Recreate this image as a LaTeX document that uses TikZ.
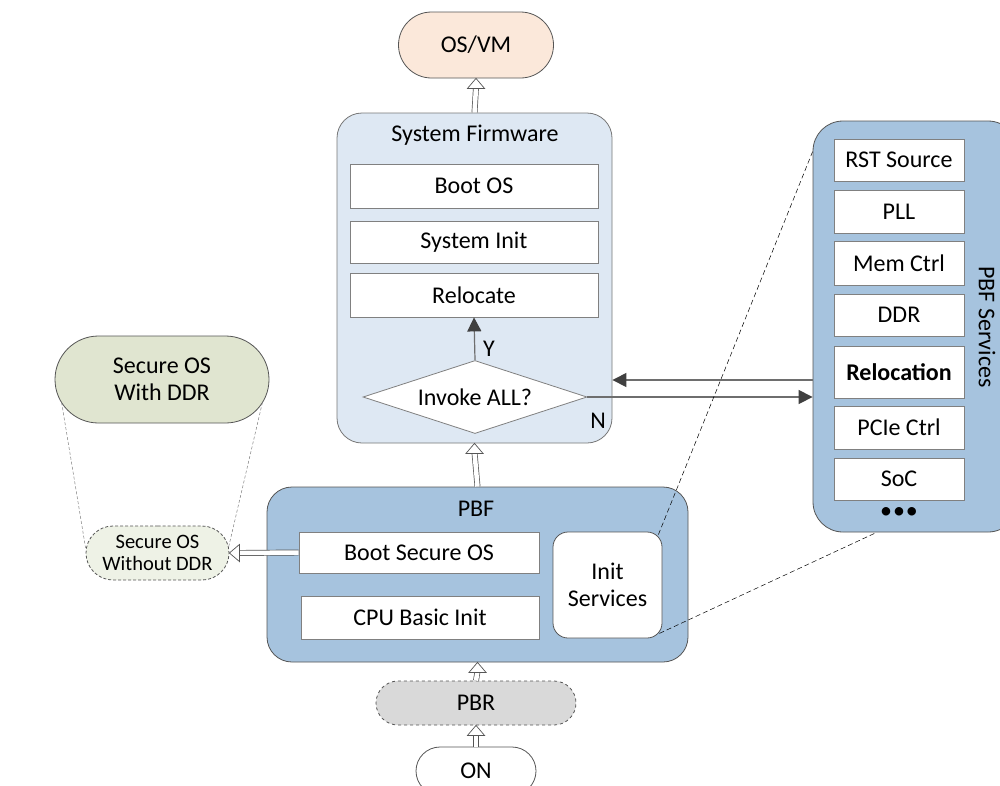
\documentclass[tikz,border=0pt]{standalone}
\usepackage{fontspec}
\setmainfont{Carlito}
\usetikzlibrary{arrows.meta,shapes.geometric,shapes.misc,calc}
\definecolor{fwfill}{HTML}{DEE8F3}
\definecolor{pbffill}{HTML}{A6C3DE}
\definecolor{osfill}{HTML}{FBE8DA}
\definecolor{ddrfill}{HTML}{E0E5D0}
\definecolor{noddrfill}{HTML}{EEF2E6}
\definecolor{pbrfill}{HTML}{D9D9D9}
\definecolor{edge}{HTML}{555555}
\definecolor{inedge}{HTML}{808080}
\definecolor{arrgray}{HTML}{6E6E6E}
\definecolor{tipgray}{HTML}{404040}
\begin{document}
\begin{tikzpicture}[x=1pt,y=-1pt,
  every node/.style={font=\fontsize{24}{27}\selectfont, text=black},
  pill/.style={rounded rectangle, draw=edge, line width=0.8pt, inner sep=0pt},
  panel/.style={rectangle, draw=edge, line width=0.8pt, inner sep=0pt},
  inbox/.style={rectangle, draw=inedge, fill=white, line width=0.8pt, minimum width=248, inner sep=0pt},
  svcbox/.style={rectangle, draw=inedge, fill=white, line width=0.8pt, minimum width=130, inner sep=0pt},
  shaft/.style={draw=edge, double=white, double distance=4.5pt, line width=0.7pt},
  hollowtip/.style={draw=edge, fill=white, line width=0.7pt, line join=miter},
  flow/.style={draw=arrgray, line width=1.2pt, -{Triangle[length=14pt,width=14pt,color=tipgray]}},
  zoomline/.style={draw=black, line width=0.5pt, dash pattern=on 5pt off 3pt},
  ddrline/.style={draw=gray, line width=0.5pt, dash pattern=on 3pt off 2pt}]
\useasboundingbox (0,0) rectangle (1000,785);
\fill[white] (0,0) rectangle (1000,785);

% top
\node[pill, fill=osfill, minimum width=155, minimum height=66] (osvm) at (476,45) {OS/VM};

% system firmware
\node[panel, rounded corners=25, fill=fwfill, draw=edge!80, minimum width=275, minimum height=330] (fw) at (474.5,278) {};
\node (fwt) at (475,135) {System Firmware};
\node[inbox, minimum height=44] (bootos) at (474,186) {Boot OS};
\node[inbox, minimum height=42] (sysinit) at (474,242) {System Init};
\node[inbox, minimum height=44] (relocate) at (474,295) {Relocate};
\node[diamond, aspect=3, draw=inedge, fill=white, line width=0.8pt, inner sep=0pt, minimum width=224, minimum height=73] (invoke) at (475,397) {Invoke ALL?};
\node (ylab) at (489,349) {Y};
\node (nlab) at (598,421) {N};

% PBF services
\node[panel, rounded corners=30, fill=pbffill, minimum width=205, minimum height=411] (svc) at (915.5,326.5) {};
\node[svcbox, minimum height=42] (rst) at (899,160) {RST Source};
\node[svcbox, minimum height=43] (pll) at (899,211.5) {PLL};
\node[svcbox, minimum height=44] (memctrl) at (899,263) {Mem Ctrl};
\node[svcbox, minimum height=42] (ddr) at (899,315) {DDR};
\node[svcbox, minimum height=52] (reloc) at (899,372) {\bfseries Relocation};
\node[svcbox, minimum height=43] (pcie) at (899,427.5) {PCIe Ctrl};
\node[svcbox, minimum height=42] (soc) at (899,479) {SoC};
\node (dots) at (899,513) {\textbullet\hspace{1pt}\textbullet\hspace{1pt}\textbullet};
\node[rotate=-90] (svct) at (987,327) {PBF Services};

% PBF
\node[panel, rounded corners=25, fill=pbffill, minimum width=421, minimum height=175] (pbf) at (477.5,574.5) {};
\node (pbft) at (476,509) {PBF};
\node[inbox, minimum width=240, minimum height=41] (bootsec) at (419,552.5) {Boot Secure OS};
\node[inbox, minimum width=238, minimum height=43] (cpuinit) at (420,617.5) {CPU Basic Init};
\node[rectangle, rounded corners=15, draw=edge, fill=white, line width=0.8pt, minimum width=109, minimum height=106, align=center] (initsvc) at (607.5,585) {Init\\Services};

% PBR and ON
\node[pill, dashed, fill=pbrfill, minimum width=200, minimum height=44] (pbr) at (476,703) {PBR};
\node[pill, fill=white, minimum width=120, minimum height=48] (on) at (476,771) {ON};

% secure OS
\node[pill, fill=ddrfill, minimum width=214, minimum height=87, align=center] (withddr) at (162,379.5) {Secure OS\\With DDR};
\node[pill, densely dashed, fill=noddrfill, minimum width=143, minimum height=54, align=center, font=\fontsize{20.5}{22}\selectfont] (noddr) at (157.5,553) {Secure OS\\Without DDR};

% hollow arrows (shaft + open head)
\draw[shaft] (fw.north) -- ([yshift=-9pt]osvm.south);
\draw[hollowtip] (osvm.south) -- ++(-8.5,10) -- ++(17,0) -- cycle;
\draw[shaft] (pbf.north) -- ([yshift=-9pt]fw.south);
\draw[hollowtip] (fw.south) -- ++(-8.5,10) -- ++(17,0) -- cycle;
\draw[shaft] (pbr.north) -- ([yshift=-9pt]pbf.south);
\draw[hollowtip] (pbf.south) -- ++(-8.5,10) -- ++(17,0) -- cycle;
\draw[shaft] (on.north) -- ([yshift=-9pt]pbr.south);
\draw[hollowtip] (pbr.south) -- ++(-8.5,10) -- ++(17,0) -- cycle;
\draw[shaft] (bootsec.west) -- ([xshift=9pt]noddr.east);
\draw[hollowtip] (noddr.east) -- ++(10,-8.5) -- ++(0,17) -- cycle;

% flow arrows
\draw[flow] (invoke.north) -- (relocate.south);
\draw[flow] (invoke.east) -- (svc.west |- invoke.east);
\coordinate (retY) at (700,380);
\draw[flow] (svc.west |- retY) -- (fw.east |- retY);

% zoom lines
\draw[zoomline] ($(initsvc.north east)+(-4,3)$) -- ($(svc.north west)+(0,31)$);
\draw[zoomline] ($(initsvc.south east)+(-3,-5)$) -- ($(svc.south west)+(64,0)$);
\draw[ddrline] ($(withddr.west)+(7,23)$) -- ($(noddr.west)+(0,-5)$);
\draw[ddrline] ($(withddr.east)+(-7,23)$) -- ($(noddr.east)+(-1,-5)$);
\end{tikzpicture}
\end{document}
